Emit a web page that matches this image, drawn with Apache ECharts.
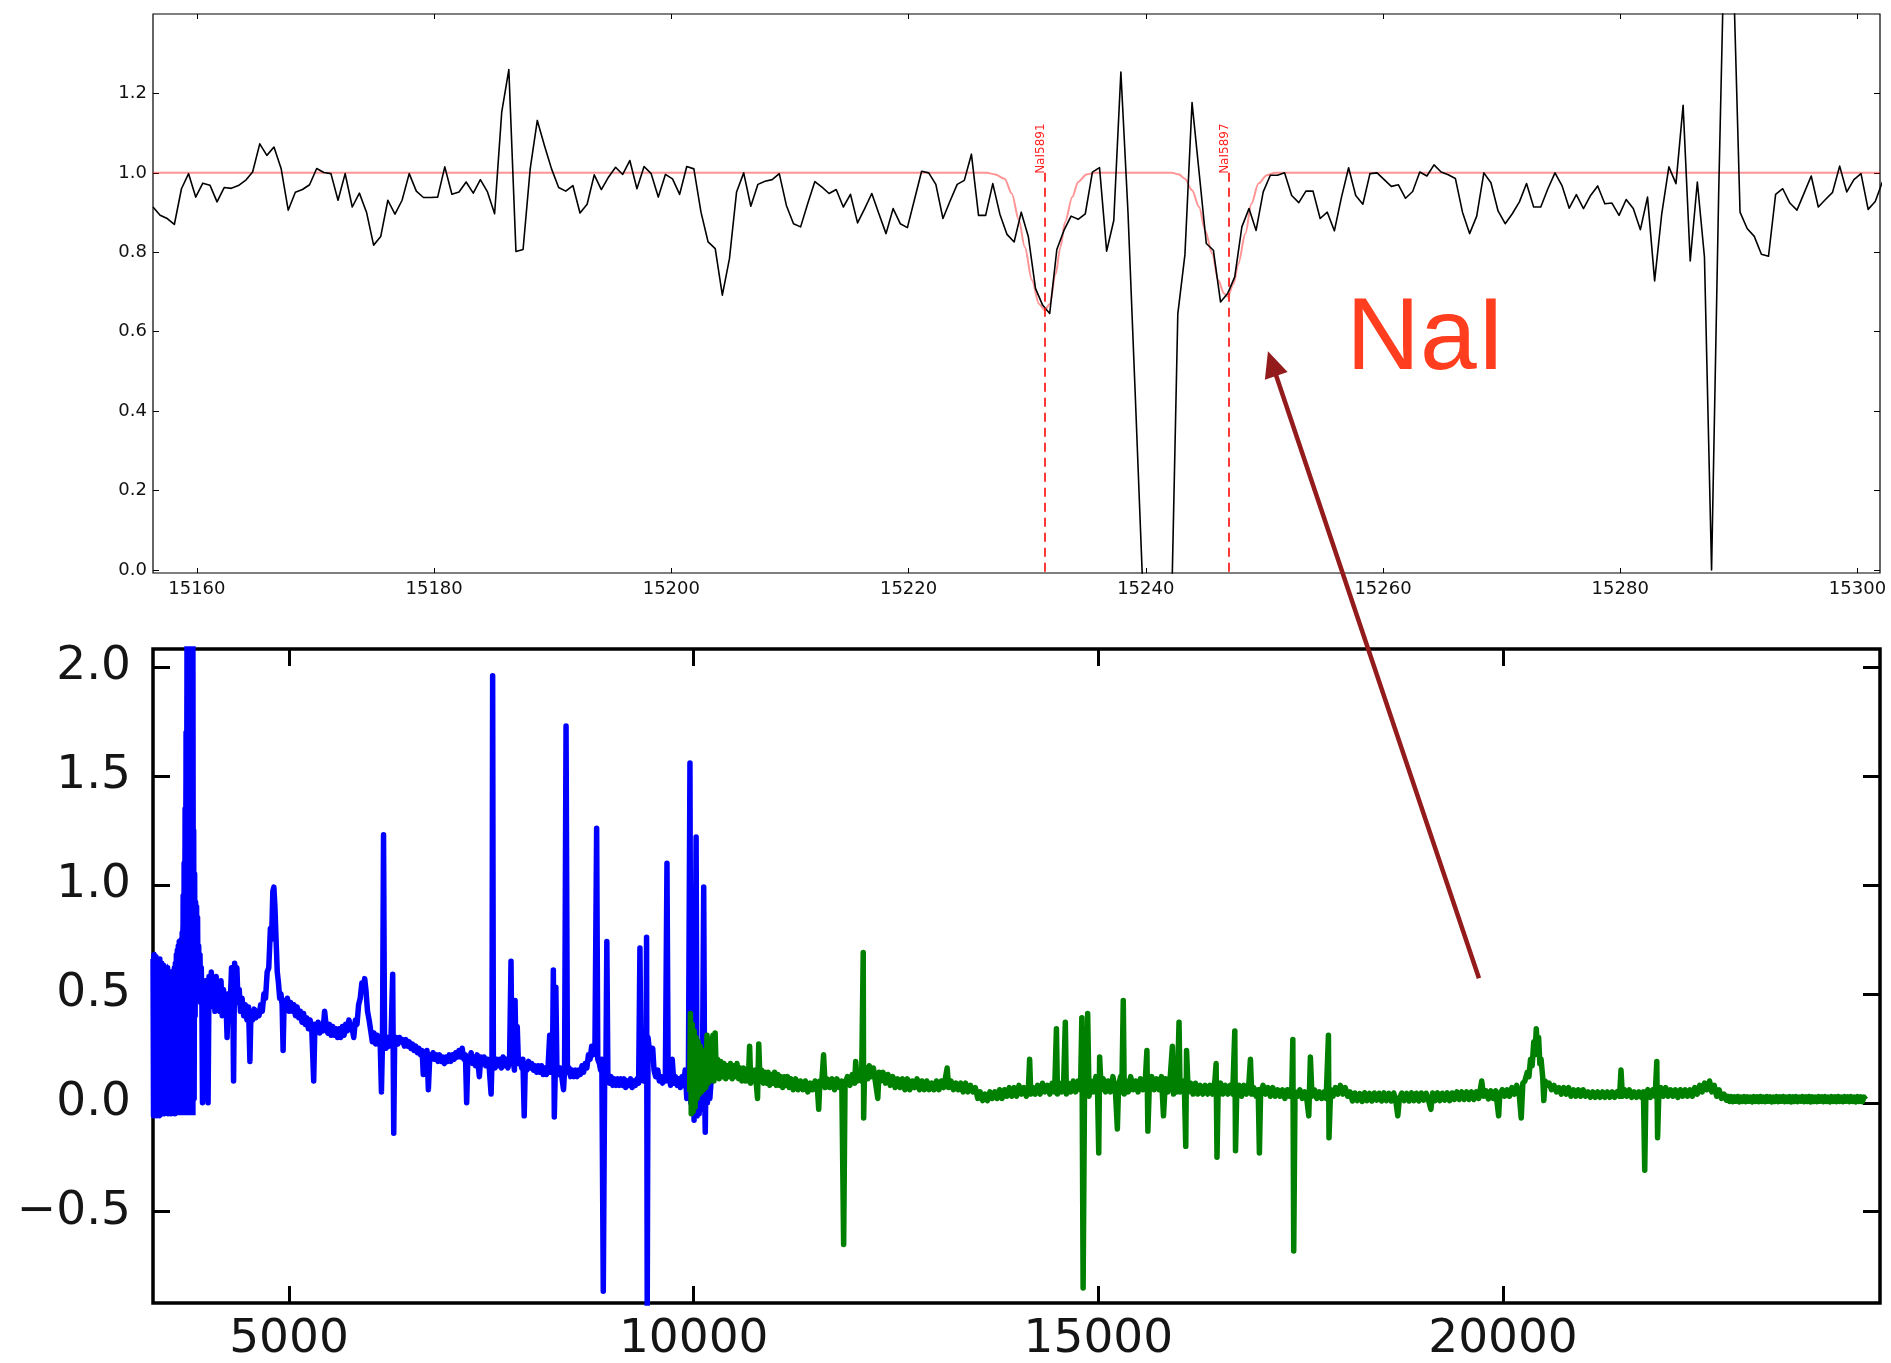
<!DOCTYPE html>
<html><head><meta charset="utf-8">
<script src="https://cdn.jsdelivr.net/npm/echarts@6/dist/echarts.min.js"></script>
<style>html,body{margin:0;padding:0;background:#fff}#c{width:1891px;height:1363px}</style>
</head><body><div id="c"></div>
<script>
// ---------------- DATA ----------------
// Top panel: normalised flux sampled on a regular wavelength grid
const topWaveStart = 15156.3;
const topWaveStep = 0.6;
const topFlux = [
0.914,0.893,0.885,0.870,0.960,0.998,0.939,0.974,0.969,0.927,
0.963,0.961,0.968,0.981,1.002,1.073,1.044,1.065,1.011,0.906,
0.951,0.958,0.970,1.011,1.001,0.998,0.931,0.998,0.914,0.949,
0.901,0.818,0.840,0.931,0.896,0.931,0.998,0.954,0.938,0.938,
0.939,1.015,0.946,0.952,0.977,0.949,0.983,0.952,0.897,1.153,
1.260,0.802,0.807,1.010,1.132,1.069,1.010,0.963,0.954,0.968,
0.899,0.921,0.995,0.958,0.989,1.014,0.996,1.031,0.960,1.016,
0.998,0.939,0.996,0.985,0.946,1.016,1.010,0.901,0.826,0.809,
0.692,0.784,0.952,1.000,0.916,0.971,0.979,0.983,0.998,0.918,
0.872,0.864,0.923,0.978,0.964,0.948,0.958,0.914,0.946,0.874,
0.910,0.948,0.897,0.847,0.910,0.872,0.862,0.933,1.004,1.000,
0.971,0.885,0.929,0.971,0.981,1.047,0.893,0.893,0.973,0.896,
0.845,0.826,0.901,0.839,0.709,0.667,0.646,0.807,0.855,0.891,
0.883,0.897,1.002,1.013,0.803,0.880,1.254,0.900,0.450,-0.010,
-0.500,-0.800,-0.600,-0.200,0.645,0.794,1.177,1.000,0.822,0.805,
0.675,0.696,0.738,0.864,0.910,0.855,0.952,0.994,0.994,1.000,
0.943,0.925,0.954,0.954,0.885,0.901,0.854,0.939,1.013,0.943,
0.921,0.998,1.000,0.983,0.966,0.970,0.936,0.953,1.002,0.992,
1.020,1.002,0.995,0.986,0.901,0.847,0.891,1.000,0.975,0.904,
0.872,0.897,0.927,0.973,0.914,0.914,0.960,1.000,0.967,0.911,
0.945,0.910,0.943,0.967,0.922,0.924,0.893,0.933,0.910,0.857,
0.939,0.728,0.897,1.015,0.973,1.170,0.778,0.977,0.788,0.000,
0.950,1.750,1.550,0.901,0.860,0.840,0.795,0.790,0.946,0.960,
0.924,0.906,0.949,0.992,0.914,0.933,0.951,1.017,0.952,0.983,
0.998,0.908,0.928,0.977
];
// Top panel: NaI model
const modelPts = [
[15156.3,1.0],[15226.6,1.0],[15227.3,0.996],[15228.1,0.985],[15228.7,0.948],[15229.3,0.881],
[15229.8,0.813],[15230.4,0.73],[15231.0,0.67],[15231.5,0.654],[15231.9,0.67],[15232.4,0.745],
[15232.8,0.813],[15233.2,0.876],[15233.8,0.939],[15234.3,0.977],[15235.0,0.996],[15235.7,1.0],
[15242.2,1.0],[15242.8,0.996],[15243.3,0.985],[15243.9,0.956],[15244.5,0.914],[15245.0,0.855],
[15245.6,0.797],[15246.1,0.73],[15246.6,0.696],[15246.9,0.688],[15247.4,0.721],[15247.8,0.771],
[15248.4,0.847],[15248.9,0.922],[15249.5,0.973],[15250.2,0.994],[15250.9,1.0],[15301.9,1.0]
];
const naiWave = [15231.5, 15247.0];
const naiNames = ['NaI5891', 'NaI5897'];
const topXTicks = [15160,15180,15200,15220,15240,15260,15280,15300];
const topYTicks = [0,0.2,0.4,0.6,0.8,1.0,1.2];
const topXRange = [15156.3, 15301.9];
const topYRange = [-0.0076, 1.4];

// Bottom panel: full spectrum (blue = optical arm, green = NIR arm)
// upper envelope of the very noisy blue start (filled down to its floor)
const blueBlockTop = [
[3320,0.67],[3345,0.68],[3370,0.64],[3395,0.65],[3420,0.62],[3445,0.63],[3470,0.60],[3495,0.62],
[3520,0.58],[3545,0.60],[3570,0.58],[3595,0.63],[3620,0.70],[3645,0.74],[3670,0.75],[3690,0.85],
[3705,1.10],[3716,1.35],[3728,1.70],[3738,2.30],[3812,2.30],[3822,1.25],[3828,0.50]
];
const blueBlockFloor = -0.05;
const bluePts = [
[3320,0.66],[3326,-0.06],[3332,0.68],[3338,-0.05],[3344,0.64],[3350,-0.04],[3356,0.67],[3362,-0.06],
[3368,0.62],[3374,-0.03],[3380,0.65],[3386,-0.05],[3392,0.63],[3398,-0.06],[3404,0.66],[3410,-0.04],
[3416,0.60],[3422,-0.03],[3428,0.64],[3434,-0.05],[3440,0.61],[3446,-0.04],[3452,0.63],[3458,-0.05],
[3464,0.58],[3470,-0.02],[3476,0.62],[3482,-0.04],[3488,0.60],[3494,-0.03],[3500,0.62],[3506,-0.05],
[3512,0.57],[3518,-0.03],[3524,0.60],[3530,-0.04],[3536,0.58],[3542,-0.05],[3548,0.60],[3554,-0.02],
[3560,0.56],[3566,-0.04],[3572,0.60],[3578,-0.03],[3584,0.62],[3590,-0.05],[3596,0.64],[3602,-0.04],
[3608,0.68],[3614,-0.03],[3620,0.70],[3626,-0.04],[3632,0.72],[3638,-0.03],[3644,0.74],[3650,-0.02],
[3656,0.73],[3662,-0.03],[3668,0.75],[3674,0.00],[3680,0.78],[3686,0.02],[3692,0.95],[3698,0.03],
[3704,1.10],[3710,0.04],[3716,1.35],[3722,0.05],[3728,1.70],[3734,0.06],[3740,2.30],[3746,0.08],
[3752,2.30],[3758,0.06],[3764,2.30],[3770,0.10],[3776,2.30],[3782,0.08],[3788,2.30],[3794,0.15],
[3800,2.30],[3806,0.30],[3812,2.30],[3818,0.50],[3822,1.25],[3828,0.02],[3834,1.05],[3840,0.40],
[3846,0.92],[3852,0.70],[3858,0.90],[3864,0.55],[3870,0.85],[3876,0.50],[3884,0.72],[3892,0.48],
[3900,0.68],[3908,0.46],[3916,0.62],[3924,0.45],[3931,0.00],[3942,0.55],[3955,0.46],[3968,0.56],
[3980,0.44],[4000,0.00],[4012,0.58],[4025,0.44],[4040,0.60],[4055,0.45],[4070,0.56],[4085,0.42],
[4100,0.58],[4115,0.43],[4130,0.55],[4145,0.42],[4160,0.56],[4175,0.40],[4190,0.52],[4205,0.42],
[4220,0.48],[4235,0.30],[4250,0.50],[4270,0.42],[4290,0.62],[4305,0.50],[4315,0.10],[4328,0.64],
[4342,0.55],[4356,0.62],[4370,0.46],[4385,0.52],[4400,0.42],[4420,0.48],[4440,0.40],[4460,0.45],
[4480,0.38],[4500,0.44],[4517,0.19],[4530,0.42],[4550,0.38],[4570,0.43],[4590,0.39],[4610,0.42],
[4630,0.40],[4650,0.45],[4670,0.42],[4690,0.50],[4710,0.48],[4730,0.60],[4750,0.62],[4770,0.80],
[4785,0.75],[4800,0.97],[4813,0.99],[4826,0.90],[4840,0.75],[4855,0.60],[4870,0.55],[4885,0.48],
[4900,0.50],[4915,0.45],[4927,0.24],[4940,0.47],[4960,0.44],[4980,0.48],[5000,0.42],[5020,0.46],
[5040,0.42],[5060,0.45],[5080,0.40],[5100,0.44],[5120,0.39],[5140,0.42],[5160,0.37],[5180,0.41],
[5200,0.36],[5220,0.39],[5240,0.34],[5260,0.38],[5280,0.35],[5305,0.10],[5320,0.36],[5340,0.33],
[5360,0.37],[5380,0.32],[5400,0.36],[5420,0.33],[5440,0.42],[5460,0.35],[5480,0.32],[5500,0.36],
[5520,0.31],[5540,0.35],[5560,0.31],[5580,0.34],[5600,0.30],[5620,0.34],[5640,0.30],[5660,0.35],
[5680,0.31],[5700,0.36],[5720,0.33],[5740,0.38],[5760,0.35],[5780,0.34],[5800,0.30],[5820,0.38],
[5840,0.36],[5860,0.45],[5880,0.48],[5900,0.55],[5920,0.52],[5935,0.57],[5950,0.52],[5970,0.42],
[5990,0.38],[6010,0.33],[6030,0.28],[6050,0.32],[6070,0.27],[6090,0.31],[6110,0.27],[6125,0.30],
[6142,0.05],[6155,0.28],[6168,1.23],[6180,0.30],[6200,0.25],[6220,0.30],[6240,0.26],[6260,0.29],
[6281,0.59],[6294,-0.14],[6305,0.27],[6325,0.30],[6345,0.27],[6365,0.30],[6385,0.28],[6405,0.29],
[6425,0.26],[6445,0.29],[6465,0.26],[6485,0.28],[6505,0.25],[6525,0.27],[6545,0.24],[6565,0.26],
[6585,0.23],[6605,0.25],[6625,0.22],[6645,0.24],[6659,0.13],[6675,0.23],[6690,0.21],[6705,0.24],
[6722,0.06],[6740,0.22],[6760,0.20],[6780,0.23],[6800,0.20],[6820,0.22],[6840,0.19],[6860,0.22],
[6880,0.19],[6900,0.21],[6920,0.18],[6940,0.21],[6960,0.19],[6980,0.22],[7000,0.19],[7020,0.22],
[7040,0.20],[7060,0.23],[7080,0.21],[7100,0.24],[7120,0.21],[7140,0.25],[7160,0.20],[7180,0.22],
[7195,0.00],[7210,0.21],[7230,0.19],[7250,0.23],[7270,0.18],[7289,0.21],[7305,0.17],[7325,0.22],
[7352,0.12],[7370,0.21],[7390,0.18],[7410,0.21],[7430,0.17],[7450,0.20],[7470,0.18],[7497,0.04],
[7508,0.19],[7516,1.96],[7525,0.19],[7545,0.16],[7565,0.20],[7585,0.17],[7605,0.20],[7625,0.16],
[7645,0.21],[7665,0.17],[7685,0.20],[7705,0.16],[7725,0.19],[7743,0.65],[7755,0.18],[7770,0.20],
[7785,0.15],[7793,0.47],[7805,0.20],[7820,0.35],[7835,0.18],[7855,0.20],[7875,0.16],[7890,0.20],
[7906,-0.06],[7920,0.18],[7940,0.15],[7960,0.19],[7980,0.16],[8000,0.18],[8020,0.15],[8040,0.17],
[8060,0.14],[8080,0.17],[8100,0.14],[8120,0.17],[8140,0.13],[8160,0.16],[8180,0.13],[8200,0.16],
[8221,0.31],[8235,0.14],[8255,0.17],[8266,0.61],[8278,-0.065],[8290,0.15],[8297,0.53],[8310,0.15],
[8330,0.13],[8350,0.16],[8370,0.12],[8392,0.06],[8405,0.15],[8423,1.73],[8440,0.14],[8460,0.16],
[8480,0.12],[8500,0.15],[8520,0.12],[8540,0.15],[8560,0.12],[8580,0.15],[8600,0.13],[8620,0.17],
[8640,0.14],[8660,0.18],[8680,0.16],[8700,0.22],[8720,0.20],[8740,0.26],[8760,0.22],[8780,0.25],
[8801,1.26],[8815,0.20],[8835,0.18],[8850,0.15],[8865,0.20],[8883,-0.865],[8900,0.12],[8915,0.14],
[8927,0.74],[8940,0.12],[8960,0.09],[8980,0.12],[9000,0.08],[9020,0.11],[9040,0.08],[9060,0.11],
[9080,0.08],[9100,0.11],[9120,0.08],[9140,0.11],[9160,0.07],[9180,0.10],[9200,0.08],[9220,0.11],
[9240,0.07],[9260,0.10],[9280,0.08],[9300,0.11],[9320,0.09],[9336,0.71],[9350,0.12],[9365,0.28],
[9381,0.10],[9395,0.30],[9410,0.10],[9418,0.76],[9426,-0.95],[9436,0.30],[9450,0.25],[9470,0.22],
[9494,0.25],[9510,0.15],[9530,0.12],[9557,0.15],[9575,0.10],[9595,0.12],[9615,0.09],[9635,0.12],
[9650,0.10],[9670,1.10],[9685,0.10],[9700,0.12],[9715,0.08],[9735,0.20],[9755,0.09],[9775,0.12],
[9795,0.08],[9815,0.11],[9835,0.07],[9855,0.12],[9875,0.08],[9895,0.15],[9915,0.02],[9935,0.14],
[9954,1.56],[9965,0.00],[9975,0.38],[9985,-0.05],[9995,0.35],[10005,-0.08],[10015,0.30],[10030,1.22],
[10042,-0.06],[10055,0.28],[10068,-0.05],[10080,0.25],[10095,-0.03],[10110,0.22],[10124,0.99],[10135,0.05],
[10143,-0.135],[10155,0.20],[10170,0.00],[10185,0.15],[10200,0.02],[10219,0.12]
];
const greenPts = [
[9950,0.05],[9960,0.41],[9970,-0.05],[9982,0.36],[9994,-0.04],[10006,0.33],[10018,-0.02],[10030,0.30],
[10042,0.02],[10055,0.28],[10068,0.04],[10080,0.26],[10094,0.05],[10108,0.24],[10122,0.06],[10136,0.22],
[10150,0.07],[10165,0.31],[10180,0.09],[10195,0.22],[10210,0.10],[10225,0.28],[10238,0.31],[10250,0.10],
[10265,0.32],[10280,0.12],[10295,0.20],[10315,0.11],[10335,0.19],[10355,0.12],[10375,0.18],[10395,0.11],
[10415,0.17],[10435,0.12],[10455,0.18],[10475,0.11],[10495,0.17],[10515,0.12],[10535,0.18],[10555,0.11],
[10575,0.16],[10595,0.10],[10615,0.16],[10635,0.10],[10655,0.15],[10675,0.10],[10691,0.26],[10705,0.09],
[10720,0.15],[10740,0.10],[10760,0.15],[10789,0.02],[10804,0.27],[10820,0.10],[10840,0.15],[10860,0.09],
[10880,0.14],[10900,0.09],[10920,0.14],[10940,0.08],[10960,0.13],[10980,0.09],[11000,0.14],[11020,0.08],
[11040,0.13],[11060,0.08],[11080,0.12],[11100,0.07],[11120,0.12],[11140,0.08],[11160,0.12],[11180,0.07],
[11200,0.11],[11230,0.06],[11260,0.11],[11290,0.06],[11320,0.10],[11350,0.06],[11380,0.10],[11410,0.05],
[11440,0.09],[11470,0.06],[11500,0.10],[11530,0.06],[11545,-0.03],[11560,0.10],[11580,0.08],[11605,0.22],
[11625,0.07],[11650,0.11],[11680,0.07],[11710,0.11],[11740,0.06],[11770,0.11],[11800,0.07],[11830,0.10],
[11853,-0.65],[11870,0.09],[11900,0.12],[11930,0.08],[11960,0.13],[11990,0.09],[12002,0.19],[12020,0.10],
[12050,0.14],[12075,0.10],[12095,0.69],[12100,-0.07],[12110,0.12],[12130,0.16],[12150,0.11],[12170,0.17],
[12195,0.12],[12220,0.16],[12240,0.11],[12275,0.02],[12290,0.14],[12310,0.10],[12340,0.14],[12370,0.09],
[12400,0.13],[12430,0.08],[12460,0.12],[12490,0.07],[12520,0.11],[12550,0.07],[12580,0.11],[12610,0.06],
[12640,0.11],[12670,0.06],[12700,0.10],[12730,0.07],[12760,0.11],[12790,0.06],[12820,0.10],[12850,0.06],
[12880,0.10],[12910,0.06],[12940,0.09],[12970,0.06],[13000,0.10],[13030,0.06],[13060,0.10],[13090,0.07],
[13132,0.16],[13150,0.07],[13180,0.10],[13210,0.06],[13240,0.09],[13270,0.06],[13300,0.09],[13330,0.05],
[13360,0.09],[13390,0.05],[13420,0.08],[13450,0.05],[13480,0.07],[13510,0.02],[13540,0.05],[13570,0.01],
[13600,0.04],[13630,0.01],[13660,0.05],[13690,0.02],[13720,0.05],[13750,0.02],[13780,0.06],[13810,0.02],
[13840,0.06],[13870,0.03],[13900,0.07],[13930,0.03],[13960,0.07],[13990,0.03],[14020,0.08],[14050,0.04],
[14080,0.07],[14110,0.03],[14135,0.06],[14151,0.20],[14165,0.04],[14190,0.07],[14220,0.04],[14250,0.08],
[14280,0.04],[14310,0.09],[14340,0.05],[14370,0.08],[14400,0.04],[14430,0.09],[14460,0.05],[14482,0.34],
[14495,0.04],[14520,0.09],[14550,0.05],[14570,0.08],[14592,0.37],[14605,0.04],[14630,0.09],[14660,0.05],
[14690,0.10],[14720,0.05],[14750,0.10],[14780,0.06],[14796,0.39],[14812,-0.85],[14830,0.10],[14850,0.05],
[14868,0.41],[14885,0.03],[14910,0.10],[14940,0.05],[14970,0.12],[14990,0.06],[15005,-0.23],[15016,0.21],
[15035,0.06],[15060,0.11],[15090,0.05],[15120,0.10],[15150,0.05],[15180,0.12],[15210,0.06],[15235,-0.12],
[15250,0.08],[15275,0.12],[15290,0.05],[15308,0.47],[15320,0.04],[15345,0.10],[15370,0.05],[15400,0.12],
[15430,0.06],[15460,0.10],[15490,0.05],[15520,0.11],[15550,0.06],[15580,0.10],[15600,0.24],[15612,-0.13],
[15630,0.08],[15660,0.12],[15690,0.06],[15720,0.11],[15750,0.06],[15780,0.12],[15805,-0.06],[15830,0.11],
[15860,0.05],[15885,0.10],[15915,0.26],[15930,0.04],[15955,0.09],[15975,0.05],[15997,0.37],[16010,0.05],
[16040,0.10],[16065,0.04],[16080,-0.20],[16090,0.24],[16110,0.05],[16140,0.09],[16170,0.04],[16200,0.09],
[16230,0.04],[16260,0.08],[16290,0.04],[16320,0.08],[16350,0.04],[16380,0.08],[16410,0.04],[16440,0.10],
[16455,0.18],[16466,-0.25],[16480,0.05],[16510,0.09],[16540,0.04],[16570,0.08],[16600,0.04],[16630,0.08],
[16660,0.04],[16686,0.33],[16695,-0.22],[16710,0.05],[16740,0.08],[16770,0.03],[16800,0.08],[16830,0.04],
[16860,0.09],[16879,0.20],[16895,0.04],[16920,0.07],[16950,0.03],[16975,0.06],[16990,-0.23],[17005,0.05],
[17035,0.08],[17065,0.04],[17095,0.07],[17125,0.03],[17155,0.07],[17185,0.03],[17215,0.06],[17245,0.03],
[17275,0.06],[17305,0.02],[17335,0.06],[17365,0.03],[17390,0.05],[17403,0.29],[17414,-0.68],[17430,0.05],
[17460,0.03],[17490,0.06],[17520,0.02],[17550,0.05],[17575,0.02],[17600,-0.06],[17620,0.21],[17640,0.03],
[17670,0.06],[17700,0.02],[17730,0.05],[17760,0.02],[17790,0.05],[17815,0.02],[17843,0.31],[17850,-0.16],
[17870,0.06],[17900,0.03],[17930,0.07],[17960,0.04],[17990,0.08],[18020,0.04],[18050,0.07],[18080,0.03],
[18110,0.05],[18140,0.008],[18170,0.045],[18200,0.01],[18230,0.042],[18260,0.006],[18290,0.046],[18320,0.01],
[18350,0.043],[18380,0.008],[18410,0.045],[18440,0.012],[18470,0.044],[18500,0.008],[18530,0.046],[18560,0.01],
[18590,0.043],[18620,0.008],[18650,0.045],[18675,0.01],[18700,-0.06],[18720,0.02],[18750,0.045],[18780,0.01],
[18810,0.043],[18840,0.008],[18870,0.046],[18900,0.01],[18930,0.044],[18960,0.008],[18990,0.045],[19020,0.012],
[19050,0.044],[19080,0.01],[19109,-0.03],[19130,0.045],[19160,0.01],[19190,0.046],[19220,0.01],[19250,0.044],
[19280,0.012],[19310,0.046],[19340,0.01],[19370,0.045],[19400,0.015],[19430,0.05],[19460,0.015],[19490,0.05],
[19520,0.015],[19550,0.05],[19580,0.015],[19610,0.05],[19640,0.015],[19670,0.05],[19700,0.02],[19737,0.10],
[19760,0.03],[19790,0.055],[19820,0.018],[19850,0.055],[19880,0.02],[19910,0.055],[19946,-0.06],[19960,0.04],
[19990,0.06],[20020,0.03],[20050,0.06],[20080,0.03],[20110,0.07],[20140,0.04],[20170,0.08],[20200,0.04],
[20225,-0.07],[20245,0.09],[20270,0.10],[20300,0.14],[20320,0.12],[20340,0.20],[20360,0.17],[20380,0.28],
[20395,0.22],[20411,0.34],[20425,0.25],[20440,0.30],[20455,0.18],[20470,0.20],[20490,0.12],[20504,0.01],
[20520,0.10],[20545,0.08],[20570,0.09],[20600,0.06],[20630,0.08],[20660,0.05],[20690,0.07],[20720,0.04],
[20750,0.07],[20780,0.04],[20810,0.07],[20840,0.03],[20870,0.06],[20900,0.03],[20930,0.06],[20960,0.03],
[20990,0.06],[21020,0.03],[21050,0.05],[21080,0.025],[21110,0.05],[21140,0.025],[21170,0.05],[21200,0.025],
[21230,0.05],[21260,0.025],[21290,0.05],[21320,0.025],[21350,0.05],[21380,0.025],[21410,0.05],[21440,0.03],
[21458,0.15],[21475,0.03],[21500,0.06],[21530,0.03],[21560,0.06],[21590,0.025],[21620,0.05],[21650,0.025],
[21680,0.05],[21710,0.025],[21735,0.05],[21751,-0.31],[21765,0.04],[21790,0.06],[21820,0.025],[21850,0.06],
[21880,0.03],[21900,0.19],[21910,-0.16],[21925,0.04],[21950,0.07],[21980,0.03],[22010,0.07],[22040,0.03],
[22070,0.06],[22100,0.03],[22130,0.06],[22160,0.025],[22190,0.06],[22220,0.03],[22250,0.06],[22280,0.03],
[22310,0.06],[22340,0.03],[22370,0.07],[22400,0.04],[22430,0.08],[22460,0.05],[22490,0.09],[22520,0.06],
[22552,0.10],[22580,0.05],[22610,0.08],[22640,0.03],[22670,0.06],[22700,0.02],[22730,0.04],[22760,0.012],
[22780,0.030],[22800,0.006],[22820,0.028],[22840,0.005],[22860,0.027],[22880,0.007],[22900,0.029],[22920,0.004],
[22940,0.026],[22960,0.006],[22980,0.028],[23000,0.005],[23020,0.027],[23040,0.007],[23060,0.026],[23080,0.004],
[23100,0.028],[23120,0.006],[23140,0.027],[23160,0.005],[23180,0.029],[23200,0.006],[23220,0.026],[23240,0.005],
[23260,0.028],[23280,0.007],[23300,0.027],[23320,0.004],[23340,0.026],[23360,0.006],[23380,0.028],[23400,0.005],
[23420,0.027],[23440,0.007],[23460,0.029],[23480,0.005],[23500,0.026],[23520,0.006],[23540,0.028],[23560,0.004],
[23580,0.027],[23600,0.006],[23620,0.028],[23640,0.005],[23660,0.026],[23680,0.007],[23700,0.028],[23720,0.005],
[23740,0.027],[23760,0.006],[23780,0.029],[23800,0.004],[23820,0.027],[23840,0.006],[23860,0.026],[23880,0.005],
[23900,0.028],[23920,0.007],[23940,0.027],[23960,0.005],[23980,0.028],[24000,0.006],[24020,0.026],[24040,0.004],
[24060,0.028],[24080,0.006],[24100,0.027],[24120,0.005],[24140,0.029],[24160,0.006],[24180,0.026],[24200,0.005],
[24220,0.028],[24240,0.007],[24260,0.027],[24280,0.005],[24300,0.028],[24320,0.006],[24340,0.026],[24360,0.004],
[24380,0.028],[24400,0.006],[24420,0.027],[24440,0.005],[24460,0.026],[24483,0.015]
];
const botXTicks = [5000,10000,15000,20000];
const botYTicks = [-0.5,0,0.5,1.0,1.5,2.0];
const botXRange = [3319.5, 24658];
const botYRange = [-0.919, 2.083];

// Annotation anchors (data coordinates)
const noteText = 'NaI';
const noteAt = [15256.9, 0.577];           // top panel
const arrowTip = [15250.3, 0.551];         // top panel
const arrowTail = [19703, 0.572];          // bottom panel

// ---------------- CHART ----------------
const topData = topFlux.map((v, i) => [topWaveStart + i * topWaveStep, v]);
const chart = echarts.init(document.getElementById('c'), null, {renderer: 'canvas'});

const topFont = {fontFamily: 'DejaVu Sans', fontSize: 18, color: '#111'};
const botFont = {fontFamily: 'DejaVu Sans', fontSize: 47, color: '#151515'};
const fmt1 = v => (v < 0 ? '\u2212' + Math.abs(v).toFixed(1) : Number(v).toFixed(1));

function xAx(grid, range, ticks, pos, showLabel, tickLen, tickW, font, margin) {
  return {
    type: 'value', gridIndex: grid, position: pos, min: range[0], max: range[1],
    axisLine: {show: false, onZero: false}, splitLine: {show: false},
    axisTick: {show: true, inside: true, length: tickLen, customValues: ticks, lineStyle: {color: '#000', width: tickW}},
    axisLabel: Object.assign({show: showLabel, customValues: ticks, margin: margin, formatter: v => String(v)}, font)
  };
}
function yAx(grid, range, ticks, pos, showLabel, tickLen, tickW, font, margin) {
  return {
    type: 'value', gridIndex: grid, position: pos, min: range[0], max: range[1],
    axisLine: {show: false, onZero: false}, splitLine: {show: false},
    axisTick: {show: true, inside: true, length: tickLen, customValues: ticks, lineStyle: {color: '#000', width: tickW}},
    axisLabel: Object.assign({show: showLabel, customValues: ticks, margin: margin, formatter: fmt1}, font)
  };
}

chart.setOption({
  animation: false,
  backgroundColor: '#fff',
  grid: [
    {left: 153, top: 14, width: 1727, height: 559, show: true, borderColor: '#000', borderWidth: 1.2, backgroundColor: 'transparent'},
    {left: 153, top: 649, width: 1727, height: 654, show: true, borderColor: '#000', borderWidth: 3.5, backgroundColor: 'transparent'}
  ],
  xAxis: [
    xAx(0, topXRange, topXTicks, 'bottom', true, 5, 1, topFont, 7),
    xAx(0, topXRange, topXTicks, 'top', false, 5, 1, topFont, 7),
    xAx(1, botXRange, botXTicks, 'bottom', true, 17, 3, botFont, 13),
    xAx(1, botXRange, botXTicks, 'top', false, 17, 3, botFont, 13)
  ],
  yAxis: [
    yAx(0, topYRange, topYTicks, 'left', true, 6, 1, topFont, 6),
    yAx(0, topYRange, topYTicks, 'right', false, 6, 1, topFont, 6),
    yAx(1, botYRange, botYTicks, 'left', true, 17, 3, botFont, 22),
    yAx(1, botYRange, botYTicks, 'right', false, 17, 3, botFont, 22)
  ],
  series: [
    {
      name: 'model', type: 'line', xAxisIndex: 0, yAxisIndex: 0, data: modelPts,
      showSymbol: false, symbol: 'none', smooth: 0.3, smoothMonotone: 'x', clip: true,
      lineStyle: {color: 'rgba(255,0,0,0.42)', width: 2},
      markLine: {
        silent: true, symbol: ['none', 'none'], animation: false,
        label: {show: false},
        lineStyle: {color: 'rgba(255,20,20,0.85)', width: 2, type: [9, 6]},
        data: naiWave.map(w => [{coord: [w, 1.0]}, {coord: [w, topYRange[0]]}])
      }
    },
    {
      name: 'flux', type: 'line', xAxisIndex: 0, yAxisIndex: 0, data: topData,
      showSymbol: false, symbol: 'none', clip: true,
      lineStyle: {color: '#000', width: 1.6, join: 'round'}
    },
    {
      name: 'blueBlock', type: 'custom', xAxisIndex: 2, yAxisIndex: 2,
      data: [[blueBlockTop[0][0], blueBlockFloor]], silent: true, z: 2,
      renderItem: function (params, api) {
        const pts = blueBlockTop.map(p => api.coord(p));
        pts.push(api.coord([blueBlockTop[blueBlockTop.length - 1][0], blueBlockFloor]));
        pts.push(api.coord([blueBlockTop[0][0], blueBlockFloor]));
        const cs = params.coordSys;
        const clipped = echarts.graphic.clipPointsByRect(pts, {x: cs.x, y: cs.y, width: cs.width, height: cs.height});
        return {type: 'polygon', shape: {points: clipped}, style: {fill: '#0000ff', stroke: '#0000ff', lineWidth: 3}};
      }
    },
    {
      name: 'blue', type: 'line', xAxisIndex: 2, yAxisIndex: 2, data: bluePts,
      showSymbol: false, symbol: 'none', clip: true, z: 3,
      lineStyle: {color: '#0000ff', width: 5.5, join: 'round'}
    },
    {
      name: 'green', type: 'line', xAxisIndex: 2, yAxisIndex: 2, data: greenPts,
      showSymbol: false, symbol: 'none', clip: true, z: 4,
      lineStyle: {color: '#008000', width: 5.5, join: 'round'}
    }
  ]
});

// annotations placed from data coordinates
const g = [];
naiWave.forEach((w, k) => {
  const p = chart.convertToPixel({xAxisIndex: 0, yAxisIndex: 0}, [w, 1.0]);
  g.push({type: 'text', x: p[0] - 4, y: p[1] + 1, rotation: Math.PI / 2, z: 50,
    style: {text: naiNames[k], fill: '#ff2020', font: '12px "DejaVu Sans"',
      align: 'left', textAlign: 'left', verticalAlign: 'middle', textVerticalAlign: 'middle'}});
});
const tip = chart.convertToPixel({xAxisIndex: 0, yAxisIndex: 0}, arrowTip);
const tail = chart.convertToPixel({xAxisIndex: 2, yAxisIndex: 2}, arrowTail);
const dx = tip[0] - tail[0], dy = tip[1] - tail[1];
const L = Math.sqrt(dx * dx + dy * dy), ux = dx / L, uy = dy / L;
const headLen = 26, headHalf = 12;
const bx = tip[0] - ux * headLen, by = tip[1] - uy * headLen;
const arrowColor = '#931b1b';
g.push({type: 'line', z: 60, shape: {x1: tail[0], y1: tail[1], x2: bx + ux * 3, y2: by + uy * 3},
  style: {stroke: arrowColor, lineWidth: 4.5}});
g.push({type: 'polygon', z: 60, shape: {points: [[tip[0], tip[1]], [bx - uy * headHalf, by + ux * headHalf], [bx + uy * headHalf, by - ux * headHalf]]},
  style: {fill: arrowColor}});
const np = chart.convertToPixel({xAxisIndex: 0, yAxisIndex: 0}, noteAt);
g.push({type: 'text', x: np[0], y: np[1], z: 60,
  style: {text: noteText, fill: '#ff3d1f', font: '102px "Liberation Sans"',
    align: 'left', textAlign: 'left', verticalAlign: 'middle', textVerticalAlign: 'middle'}});
chart.setOption({graphic: g});
</script>
</body></html>
